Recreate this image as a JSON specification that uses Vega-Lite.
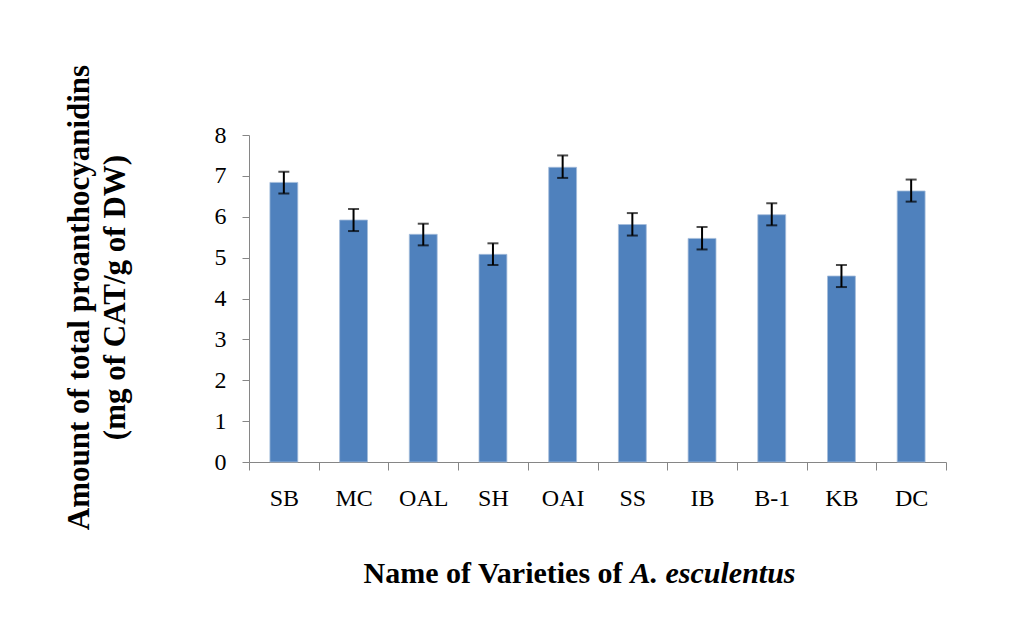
{
  "$schema": "https://vega.github.io/schema/vega-lite/v6.json",
  "width": 697,
  "height": 327,
  "autosize": "none",
  "padding": {"left": 249, "top": 135, "right": 68, "bottom": 166},
  "background": "white",
  "config": {
    "view": {"stroke": null},
    "font": "Liberation Serif",
    "axisY": {"grid": false, "domainColor": "#868686", "tickColor": "#868686", "tickSize": 7,
      "labelFont": "Liberation Serif", "labelFontSize": 24, "labelColor": "black", "labelPadding": 16,
      "titleFont": "Liberation Serif", "titleFontSize": 31, "titleFontWeight": "bold", "titleColor": "black",
      "titleAngle": 270, "titleAlign": "center", "titleBaseline": "alphabetic", "titleX": -161, "titleY": 162, "titleLineHeight": 36}
  },
  "data": {"values": [
    {"variety": "SB", "value": 6.84, "low": 6.57, "high": 7.10},
    {"variety": "MC", "value": 5.92, "low": 5.65, "high": 6.19},
    {"variety": "OAL", "value": 5.57, "low": 5.30, "high": 5.83},
    {"variety": "SH", "value": 5.08, "low": 4.82, "high": 5.35},
    {"variety": "OAI", "value": 7.21, "low": 6.95, "high": 7.50},
    {"variety": "SS", "value": 5.81, "low": 5.54, "high": 6.09},
    {"variety": "IB", "value": 5.47, "low": 5.20, "high": 5.75},
    {"variety": "B-1", "value": 6.05, "low": 5.79, "high": 6.33},
    {"variety": "KB", "value": 4.55, "low": 4.28, "high": 4.82},
    {"variety": "DC", "value": 6.63, "low": 6.37, "high": 6.91}
  ]},
  "layer": [
    {
      "mark": {"type": "bar", "color": "#4F81BD", "width": {"band": 0.4}, "stroke": "#A5BDDB", "strokeWidth": 0.8},
      "encoding": {
        "x": {"field": "variety", "type": "nominal", "sort": null,
          "scale": {"paddingInner": 0, "paddingOuter": 0},
          "axis": {"tickBand": "extent", "grid": false, "domainColor": "#868686", "tickColor": "#868686", "tickSize": 8,
            "labelAngle": 0, "labelFont": "Liberation Serif", "labelFontSize": 24, "labelColor": "black", "labelPadding": 16,
            "title": "Name of Varieties of", "titleFont": "Liberation Serif", "titleFontSize": 30, "titleFontWeight": "bold", "titleColor": "black",
            "titleAlign": "left", "titleBaseline": "alphabetic", "titleAnchor": "start", "titleX": 114, "titleY": 120}},
        "y": {"field": "value", "type": "quantitative", "scale": {"domain": [0, 8]},
          "title": ["Amount  of total proanthocyanidins", "(mg of CAT/g of DW)"],
          "axis": {"values": [0, 1, 2, 3, 4, 5, 6, 7, 8]}}
      }
    },
    {
      "mark": {"type": "rule", "color": "black", "strokeWidth": 2},
      "encoding": {
        "x": {"field": "variety", "type": "nominal", "sort": null,
          "axis": {"orient": "bottom", "domain": false, "ticks": false, "labels": false, "grid": false,
            "title": "A. esculentus", "titleFont": "Liberation Serif", "titleFontSize": 30, "titleFontWeight": "bold", "titleFontStyle": "italic", "titleColor": "black",
            "titleAlign": "left", "titleBaseline": "alphabetic", "titleAnchor": "start", "titleX": 381, "titleY": 120}},
        "y": {"field": "low", "type": "quantitative", "title": ["Amount  of total proanthocyanidins", "(mg of CAT/g of DW)"], "axis": {"values": [0, 1, 2, 3, 4, 5, 6, 7, 8]}},
        "y2": {"field": "high"}
      }
    },
    {
      "mark": {"type": "tick", "color": "black", "thickness": 2, "size": 11, "orient": "horizontal"},
      "encoding": {
        "x": {"field": "variety", "type": "nominal", "sort": null, "axis": null},
        "y": {"field": "low", "type": "quantitative", "title": ["Amount  of total proanthocyanidins", "(mg of CAT/g of DW)"], "axis": {"values": [0, 1, 2, 3, 4, 5, 6, 7, 8]}}
      }
    },
    {
      "mark": {"type": "tick", "color": "black", "thickness": 2, "size": 11, "orient": "horizontal"},
      "encoding": {
        "x": {"field": "variety", "type": "nominal", "sort": null, "axis": null},
        "y": {"field": "high", "type": "quantitative", "title": ["Amount  of total proanthocyanidins", "(mg of CAT/g of DW)"], "axis": {"values": [0, 1, 2, 3, 4, 5, 6, 7, 8]}}
      }
    }
  ],
  "resolve": {"axis": {"x": "independent"}}
}
